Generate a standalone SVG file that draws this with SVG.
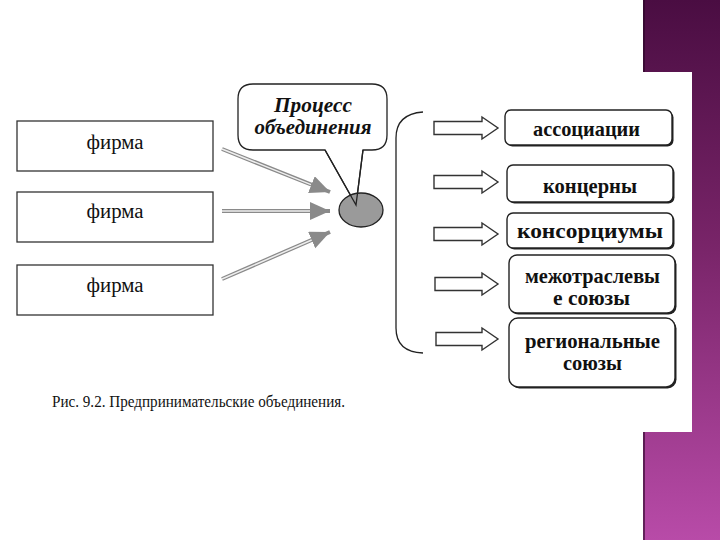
<svg xmlns="http://www.w3.org/2000/svg" width="720" height="540" viewBox="0 0 720 540">
<defs>
<linearGradient id="purple" x1="0" y1="0" x2="0" y2="1">
<stop offset="0" stop-color="#4a0d42"/>
<stop offset="0.45" stop-color="#782468"/>
<stop offset="1" stop-color="#b84ba8"/>
</linearGradient>
<marker id="head" markerUnits="userSpaceOnUse" markerWidth="22" markerHeight="20" refX="20" refY="9" orient="auto" viewBox="0 0 22 20">
<path d="M0,0 L20,9 L0,18 Z" fill="#8a8a8a"/>
</marker>
<style>
.firm{fill:#fff;stroke:#333;stroke-width:1.3}
.serif{font-family:"Liberation Serif","Times New Roman",serif;fill:#111}
.firmtxt{font-size:20px;text-anchor:middle}
.bold{font-size:21px;font-weight:bold;text-anchor:middle}
.shaft{fill:none;stroke:#8a8a8a;stroke-width:4}
.inner{fill:none;stroke:#eee;stroke-width:1.5}
.block{fill:#fff;stroke:#333;stroke-width:1.4}
.rbox{fill:#fff;stroke:#222;stroke-width:1.4}
.rshadow{fill:#222}
.line{fill:none;stroke:#222;stroke-width:1.3}
</style>
</defs>
<rect x="0" y="0" width="720" height="540" fill="#fff"/>
<rect x="643" y="0" width="77" height="540" fill="url(#purple)"/>
<rect x="643" y="0" width="2" height="540" fill="#2a0626" opacity="0.6"/>
<rect x="643" y="72" width="49" height="360" fill="#fff"/>

<g id="firm1"><rect class="firm" x="17" y="121" width="196" height="50"/><text class="serif firmtxt" x="115" y="149" textLength="57" lengthAdjust="spacingAndGlyphs">фирма</text></g>
<g id="firm2"><rect class="firm" x="17" y="192" width="196" height="50"/><text class="serif firmtxt" x="115" y="218" textLength="57" lengthAdjust="spacingAndGlyphs">фирма</text></g>
<g id="firm3"><rect class="firm" x="17" y="265" width="196" height="50"/><text class="serif firmtxt" x="115" y="292" textLength="57" lengthAdjust="spacingAndGlyphs">фирма</text></g>

<g id="callout"><path class="line" style="fill:#fff" d="M253,84 H372 Q387,84 387,99 V135 Q387,150 372,150 H363 L356,205 L325,150 H253 Q238,150 238,135 V99 Q238,84 253,84 Z"/>
<text class="serif" x="313" y="112" font-size="21" font-weight="bold" font-style="italic" text-anchor="middle" textLength="78" lengthAdjust="spacingAndGlyphs">Процесс</text>
<text class="serif" x="313" y="134" font-size="21" font-weight="bold" font-style="italic" text-anchor="middle" textLength="117" lengthAdjust="spacingAndGlyphs">объединения</text></g>

<g id="merge"><ellipse cx="361" cy="210" rx="22" ry="17" fill="#9a9a9a" stroke="#222" stroke-width="1.3"/></g>
<g id="callout-tail"><path class="line" d="M325,150 L356,205 L363,150"/></g>

<g id="connectors">
<path class="shaft" d="M222,149 L330,192" marker-end="url(#head)"/>
<path class="inner" d="M222,149 L311,184.6"/>
<path class="shaft" d="M222,211 L330,211" marker-end="url(#head)"/>
<path class="inner" d="M222,211 L310,211"/>
<path class="shaft" d="M222,279 L330,232" marker-end="url(#head)"/>
<path class="inner" d="M222,279 L311.7,240"/>
<path class="line" d="M423,112 Q396,114 396,138 V328 Q396,352 423,353"/>
<path class="block" d="M434,121.5 H482 V117 L498,128 L482,139 V134.5 H434 Z"/>
<path class="block" d="M434,175.5 H482 V171 L498,182 L482,193 V188.5 H434 Z"/>
<path class="block" d="M434,227.5 H482 V223 L498,234 L482,245 V240.5 H434 Z"/>
<path class="block" d="M435,277.5 H482 V273 L498,284 L482,295 V290.5 H435 Z"/>
<path class="block" d="M436,332.5 H482 V328 L498,339 L482,350 V345.5 H436 Z"/>
</g>

<g id="assoc"><rect class="rshadow" x="506.5" y="111.5" width="167" height="35" rx="6"/><rect class="rbox" x="505" y="110" width="167" height="35" rx="6"/><text class="serif bold" x="586.5" y="136" textLength="107" lengthAdjust="spacingAndGlyphs">ассоциации</text></g>
<g id="concern"><rect class="rshadow" x="508.5" y="166.5" width="166" height="37" rx="6"/><rect class="rbox" x="507" y="165" width="166" height="37" rx="6"/><text class="serif bold" x="590" y="193" textLength="94" lengthAdjust="spacingAndGlyphs">концерны</text></g>
<g id="consort"><rect class="rshadow" x="508.5" y="214.5" width="166" height="35" rx="6"/><rect class="rbox" x="507" y="213" width="166" height="35" rx="6"/><text class="serif bold" x="590" y="238" textLength="146" lengthAdjust="spacingAndGlyphs">консорциумы</text></g>
<g id="intersect"><rect class="rshadow" x="510.5" y="256.5" width="166" height="58" rx="8"/><rect class="rbox" x="509" y="255" width="166" height="58" rx="8"/><text class="serif bold" x="592.5" y="283" textLength="135" lengthAdjust="spacingAndGlyphs">межотраслевы</text><text class="serif bold" x="591.5" y="305" textLength="77" lengthAdjust="spacingAndGlyphs">е союзы</text></g>
<g id="regional"><rect class="rshadow" x="510.5" y="319.5" width="166" height="69" rx="9"/><rect class="rbox" x="509" y="318" width="166" height="69" rx="9"/><text class="serif bold" x="592.5" y="348" textLength="135" lengthAdjust="spacingAndGlyphs">региональные</text><text class="serif bold" x="592.5" y="370" textLength="59" lengthAdjust="spacingAndGlyphs">союзы</text></g>

<text class="serif" x="52" y="407" font-size="16" textLength="293" lengthAdjust="spacingAndGlyphs">Рис. 9.2. Предпринимательские объединения.</text>
</svg>
